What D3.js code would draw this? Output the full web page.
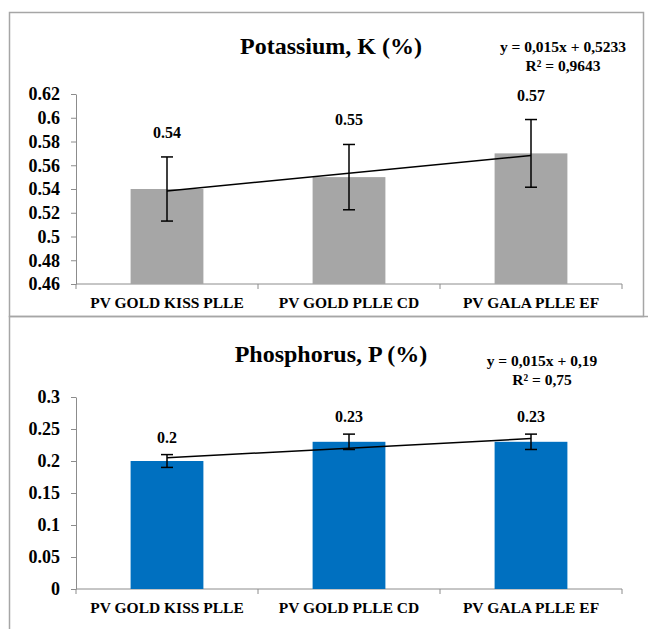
<!DOCTYPE html>
<html>
<head>
<meta charset="utf-8">
<script src="https://cdn.jsdelivr.net/npm/d3@7"></script>
<style>
  body { margin: 0; background: #fff; }
</style>
</head>
<body>
<svg id="canvas" width="648" height="629"></svg>
<script>
// categories shared by both panels
const categories = ["PV GOLD KISS PLLE", "PV GOLD PLLE CD", "PV GALA PLLE EF"];

// Potassium panel
const potassium = [0.54, 0.55, 0.57];
const potassiumErr = [0.027, 0.0275, 0.0285];
const potassiumTicks = [0.46, 0.48, 0.5, 0.52, 0.54, 0.56, 0.58, 0.6, 0.62];
const potassiumTrend = [0.015, 0.5233]; // slope, intercept
const potassiumEq = ["y = 0,015x + 0,5233", "R² = 0,9643"];

// Phosphorus panel
const phosphorus = [0.2, 0.23, 0.23];
const phosphorusErr = [0.01, 0.012, 0.012];
const phosphorusTicks = [0, 0.05, 0.1, 0.15, 0.2, 0.25, 0.3];
const phosphorusTrend = [0.015, 0.19];
const phosphorusEq = ["y = 0,015x + 0,19", "R² = 0,75"];

const svg = d3.select("#canvas")
    .attr("font-family", "Liberation Serif")
    .attr("font-weight", "bold");
const axisColor = "#8c8c8c";
const borderColor = "#a6a6a6";

// frame boxes of the two pasted Excel charts
svg.append("rect").attr("x", 9.5).attr("y", 12.5).attr("width", 634).attr("height", 304)
    .attr("fill", "none").attr("stroke", borderColor).attr("stroke-width", 1.5);
svg.append("rect").attr("x", 9.5).attr("y", 316.5).attr("width", 700).attr("height", 400)
    .attr("fill", "none").attr("stroke", borderColor).attr("stroke-width", 1.5);

function drawPanel(opt) {
    const g = svg.append("g");
    const left = 76, right = 622;

    const x = d3.scaleBand().domain(categories).range([left, right])
        .paddingInner(0.6).paddingOuter(0.3);
    const y = d3.scaleLinear().domain(d3.extent(opt.ticks)).range([opt.bottom, opt.top]);
    const slot = d3.scaleLinear().domain([0, categories.length]).range([left, right]);

    // y axis
    const yAxis = g.append("g")
        .attr("transform", `translate(${left},0)`)
        .call(d3.axisLeft(y).tickValues(opt.ticks).tickSize(5).tickSizeOuter(0)
            .tickPadding(11).tickFormat(d => d));
    yAxis.attr("font-family", null).attr("font-size", 18);
    yAxis.select(".domain").attr("stroke", axisColor);
    yAxis.selectAll(".tick line").attr("stroke", axisColor);
    yAxis.selectAll(".tick text").attr("fill", "#000");

    // x axis line and category separators
    g.append("line").attr("x1", left).attr("x2", right)
        .attr("y1", opt.bottom).attr("y2", opt.bottom).attr("stroke", axisColor);
    g.selectAll(".sep").data(d3.range(categories.length + 1)).enter().append("line")
        .attr("x1", d => slot(d)).attr("x2", d => slot(d))
        .attr("y1", opt.bottom).attr("y2", opt.bottom + 5).attr("stroke", axisColor);
    g.selectAll(".cat").data(categories).enter().append("text")
        .attr("x", d => x(d) + x.bandwidth() / 2)
        .attr("y", opt.bottom + 24)
        .attr("text-anchor", "middle").attr("font-size", 15.5)
        .text(d => d);

    // bars
    g.selectAll(".bar").data(opt.values).enter().append("rect")
        .attr("x", (d, i) => x(categories[i]))
        .attr("y", d => y(d))
        .attr("width", x.bandwidth())
        .attr("height", d => opt.bottom - y(d))
        .attr("fill", opt.color);

    // error bars
    const cx = i => x(categories[i]) + x.bandwidth() / 2;
    opt.values.forEach((v, i) => {
        const e = opt.err[i];
        g.append("line").attr("x1", cx(i)).attr("x2", cx(i))
            .attr("y1", y(v - e)).attr("y2", y(v + e))
            .attr("stroke", "#000").attr("stroke-width", 1.5);
        [v - e, v + e].forEach(t => {
            g.append("line").attr("x1", cx(i) - 6).attr("x2", cx(i) + 6)
                .attr("y1", y(t)).attr("y2", y(t))
                .attr("stroke", "#000").attr("stroke-width", 1.5);
        });
    });

    // linear trend line, from first to last category
    const n = categories.length;
    const trendEnds = [0, n - 1].map(i => ({ i, v: opt.trend[0] * (i + 1) + opt.trend[1] }));
    g.append("path").datum(trendEnds)
        .attr("d", d3.line().x(d => cx(d.i)).y(d => y(d.v)))
        .attr("fill", "none").attr("stroke", "#000").attr("stroke-width", 1.5);

    // data labels
    g.selectAll(".lbl").data(opt.values).enter().append("text")
        .attr("x", (d, i) => cx(i))
        .attr("y", (d, i) => y(d + opt.err[i]) - opt.labelGap)
        .attr("text-anchor", "middle").attr("font-size", 16)
        .text(d => d);

    // title
    g.append("text").attr("x", 331).attr("y", opt.titleY)
        .attr("text-anchor", "middle").attr("font-size", 24)
        .text(opt.title);

    // trend equation
    opt.eq.forEach((t, i) => {
        g.append("text").attr("x", opt.eqX).attr("y", opt.eqY + i * 19)
            .attr("text-anchor", "middle").attr("font-size", 15.5)
            .text(t);
    });
}

drawPanel({
    title: "Potassium, K (%)", titleY: 54,
    values: potassium, err: potassiumErr, ticks: potassiumTicks,
    trend: potassiumTrend, eq: potassiumEq, eqX: 563, eqY: 52,
    top: 94, bottom: 284, color: "#a6a6a6", labelGap: 19
});

drawPanel({
    title: "Phosphorus, P (%)", titleY: 362,
    values: phosphorus, err: phosphorusErr, ticks: phosphorusTicks,
    trend: phosphorusTrend, eq: phosphorusEq, eqX: 542, eqY: 366,
    top: 397, bottom: 589, color: "#0070c0", labelGap: 12
});
</script>
</body>
</html>
